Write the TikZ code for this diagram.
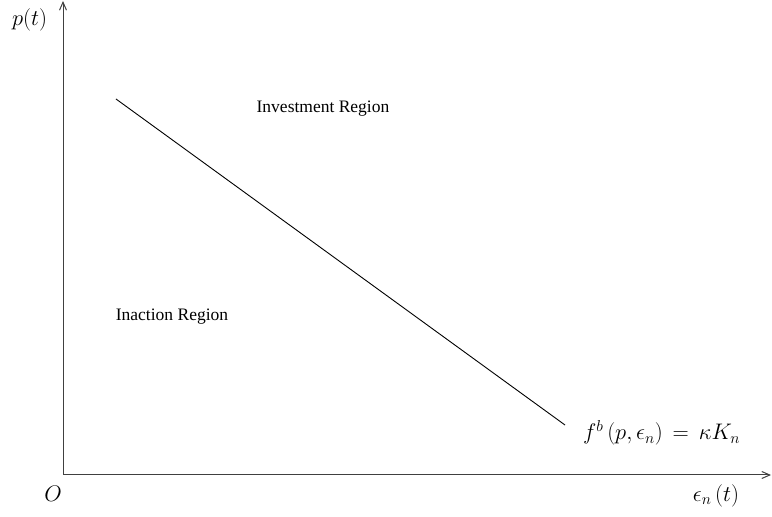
\RequirePackage{fix-cm}
\documentclass[tikz,border=0pt]{standalone}
\usepackage{fontspec}
\setmainfont{Liberation Serif}
\usetikzlibrary{arrows.meta}
\begin{document}
\begin{tikzpicture}[x=1pt,y=1pt,
  axis/.style={draw=black!75, line width=1pt, -{Straight Barb[length=8pt,width=7pt,line width=1pt]}},
  boundary/.style={draw=black, line width=0.9pt},
  regionlabel/.style={inner sep=0pt, font=\fontsize{17.5}{20}\selectfont},
  mathlabel/.style={inner sep=0pt, font=\fontsize{22.5}{26}\selectfont}]
  \useasboundingbox (0,0) rectangle (772,517);
  % axes
  \coordinate (O) at (63,42);
  \coordinate (ytop) at (63,516);
  \coordinate (xend) at (771,42);
  \draw[axis] (O) -- (ytop);
  \draw[axis] (O) -- (xend);
  % boundary line
  \coordinate (b1) at (116,418);
  \coordinate (b2) at (565,92);
  \draw[boundary] (b1) -- (b2);
  % labels
  \node[mathlabel] (py) at (29.5,497) {$p(t)$};
  \node[mathlabel] (olab) at (53,23) {$O$};
  \node[mathlabel] (ex) at (716,21) {$\epsilon_n\,(t)$};
  \node[mathlabel, anchor=west] (fb) at (583,84) {$f^b\,(p,\epsilon_n)\,=\,\kappa K_n$};
  \node[regionlabel] (inv) at (323,408) {Investment Region};
  \node[regionlabel] (ina) at (172,200) {Inaction Region};
\end{tikzpicture}
\end{document}
